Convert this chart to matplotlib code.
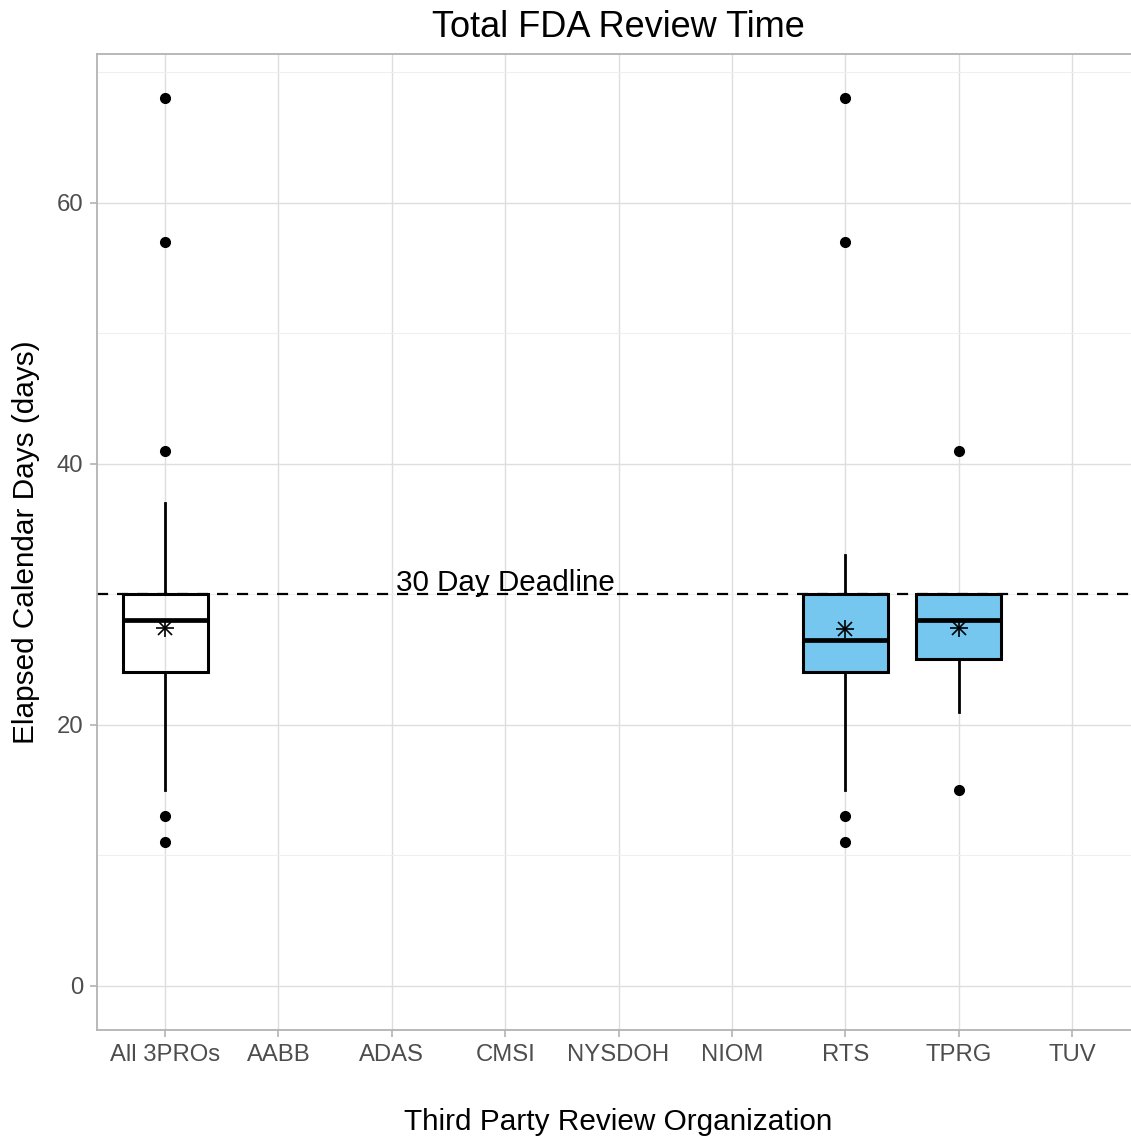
import matplotlib
matplotlib.use("Agg")
import matplotlib.pyplot as plt
from matplotlib.ticker import MultipleLocator

plt.rcParams['font.family'] = ['Liberation Sans', 'DejaVu Sans']

categories = ["All 3PROs", "AABB", "ADAS", "CMSI", "NYSDOH", "NIOM", "RTS", "TPRG", "TUV"]
box_groups = ["All 3PROs", "RTS", "TPRG"]
box_q1 = [24, 24, 25]
box_median = [28, 26.5, 28]
box_q3 = [30, 30, 30]
whisker_low = [15, 15, 21]
whisker_high = [37, 33, 30]
box_means = [27.4, 27.3, 27.4]
box_outliers = [[68, 57, 41, 13, 11], [68, 57, 13, 11], [41, 15]]
box_fills = ["none", "#76C7EF", "#76C7EF"]
deadline = 30
deadline_label = "30 Day Deadline"

W, H = 1131, 1142
fig = plt.figure(figsize=(W / 100, H / 100), dpi=100)
ax = fig.add_axes([97 / W, 1 - 1030 / H, (1140 - 97) / W, (1030 - 54) / H])

positions = [categories.index(g) for g in box_groups]
stats = []
for i, g in enumerate(box_groups):
    stats.append(dict(label=g, q1=box_q1[i], med=box_median[i], q3=box_q3[i],
                      whislo=whisker_low[i], whishi=whisker_high[i],
                      mean=box_means[i], fliers=[]))

# grid
ax.set_axisbelow(True)
ax.yaxis.set_major_locator(MultipleLocator(20))
ax.yaxis.set_minor_locator(MultipleLocator(10))
ax.grid(which='major', axis='both', color='#DEDEDE', linewidth=1.0)
ax.grid(which='minor', axis='y', color='#EFEFEF', linewidth=0.8)

# deadline
ax.axhline(deadline, color='black', linestyle=(0, (5, 4)), linewidth=1.6, zorder=1.5)
ax.text(categories.index("CMSI"), deadline + 0.25, deadline_label, ha='center',
        va='baseline', fontsize=21.3, color='black', zorder=4)

bp = ax.bxp(stats, positions=positions, widths=0.75, showcaps=False,
            showfliers=False, showmeans=False, patch_artist=True,
            boxprops=dict(linewidth=2.2, edgecolor='black'),
            medianprops=dict(linewidth=3.4, color='black'),
            whiskerprops=dict(linewidth=2.0, color='black'), manage_ticks=False)
for patch, fc in zip(bp['boxes'], box_fills):
    patch.set_facecolor(fc)
    patch.set_zorder(2)
for ln in bp['medians'] + bp['whiskers']:
    ln.set_zorder(3)

for p, outs in zip(positions, box_outliers):
    ax.plot([p] * len(outs), outs, 'o', color='black', markersize=7, zorder=5)
ax.plot(positions, box_means, '+', color='black', markersize=13, mew=1.2, zorder=5)
ax.plot(positions, box_means, 'x', color='black', markersize=10, mew=1.2, zorder=5)

ax.set_xlim(-0.6, len(categories) - 0.4)
ax.set_ylim(-3.4, 71.4)
ax.set_xticks(range(len(categories)))
ax.set_xticklabels(categories)

for s in ['left', 'bottom', 'top', 'right']:
    ax.spines[s].set_color('#B3B3B3')
    ax.spines[s].set_linewidth(1.3)
ax.tick_params(axis='both', which='major', length=5, width=1.2, color='#B3B3B3',
               labelsize=17.2, labelcolor='#4D4D4D', pad=5)
ax.tick_params(axis='y', which='minor', length=0)

ax.set_title("Total FDA Review Time", fontsize=26, pad=12)
ax.set_xlabel("Third Party Review Organization", fontsize=21.4, labelpad=30)
ax.set_ylabel("Elapsed Calendar Days (days)", fontsize=21.4, labelpad=12)

fig.savefig("out.png", dpi=100)
